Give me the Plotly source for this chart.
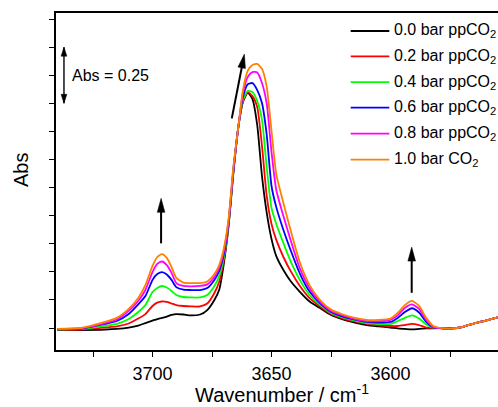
import math
import plotly.graph_objects as go

# Wavenumber grid (cm-1) shared by all spectra
wavenumber = [3740, 3730, 3720, 3715, 3710, 3706, 3703, 3700, 3698, 3696,
              3694, 3692, 3690, 3687, 3684, 3680, 3677, 3674, 3672, 3670,
              3668, 3666, 3664, 3662, 3660, 3658, 3656, 3654, 3652, 3650,
              3648, 3645, 3642, 3638, 3634, 3630, 3625, 3620, 3615, 3610,
              3605, 3600, 3597, 3594, 3591, 3588, 3585, 3582, 3578, 3574,
              3570, 3565, 3560, 3555]

# Absorbance spectra at increasing CO2 partial pressure
abs_00 = [-0.009, -0.009, -0.007, -0.004, 0.002, 0.011, 0.022, 0.033, 0.040, 0.045,
          0.051, 0.058, 0.062, 0.060, 0.056, 0.060, 0.080, 0.125, 0.169, 0.289,
          0.458, 0.694, 0.890, 1.006, 1.046, 1.019, 0.903, 0.676, 0.512, 0.396,
          0.320, 0.258, 0.209, 0.160, 0.118, 0.091, 0.058, 0.038, 0.024, 0.013,
          0.007, 0.002, -0.002, -0.004, -0.006, -0.004, -0.002, -0.001, -0.001, -0.002,
          0.004, 0.020, 0.033, 0.047]
abs_02 = [-0.008, -0.007, 0.002, 0.007, 0.020, 0.042, 0.062, 0.098, 0.113, 0.118,
          0.116, 0.109, 0.102, 0.098, 0.096, 0.096, 0.109, 0.156, 0.205, 0.303,
          0.463, 0.696, 0.890, 1.010, 1.050, 1.032, 0.983, 0.810, 0.587, 0.463,
          0.392, 0.316, 0.254, 0.186, 0.133, 0.099, 0.062, 0.042, 0.029, 0.018,
          0.012, 0.009, 0.009, 0.013, 0.018, 0.013, 0.002, 0.000, -0.001, -0.002,
          0.004, 0.020, 0.033, 0.047]
abs_04 = [-0.007, -0.004, 0.009, 0.018, 0.040, 0.071, 0.102, 0.160, 0.178, 0.187,
          0.180, 0.165, 0.147, 0.138, 0.136, 0.136, 0.147, 0.187, 0.231, 0.316,
          0.467, 0.699, 0.890, 1.015, 1.055, 1.050, 1.010, 0.926, 0.712, 0.534,
          0.463, 0.378, 0.298, 0.212, 0.147, 0.106, 0.067, 0.047, 0.033, 0.022,
          0.018, 0.018, 0.031, 0.045, 0.056, 0.042, 0.016, 0.001, -0.001, -0.002,
          0.004, 0.020, 0.033, 0.047]
abs_06 = [-0.006, -0.003, 0.018, 0.031, 0.062, 0.105, 0.142, 0.214, 0.240, 0.249,
          0.238, 0.214, 0.182, 0.171, 0.169, 0.169, 0.178, 0.214, 0.254, 0.329,
          0.472, 0.703, 0.890, 1.028, 1.085, 1.090, 1.059, 1.001, 0.859, 0.632,
          0.538, 0.436, 0.347, 0.240, 0.162, 0.114, 0.071, 0.051, 0.037, 0.027,
          0.024, 0.027, 0.045, 0.071, 0.088, 0.069, 0.027, 0.002, -0.001, -0.002,
          0.004, 0.020, 0.033, 0.047]
abs_08 = [-0.005, -0.001, 0.022, 0.038, 0.076, 0.120, 0.169, 0.249, 0.285, 0.296,
          0.280, 0.245, 0.200, 0.187, 0.185, 0.187, 0.194, 0.227, 0.267, 0.343,
          0.481, 0.712, 0.890, 1.046, 1.117, 1.139, 1.137, 1.090, 0.997, 0.783,
          0.614, 0.498, 0.392, 0.263, 0.177, 0.121, 0.076, 0.056, 0.040, 0.031,
          0.030, 0.036, 0.056, 0.089, 0.105, 0.085, 0.036, 0.004, -0.001, -0.002,
          0.004, 0.020, 0.033, 0.047]
abs_10 = [-0.004, 0.000, 0.027, 0.045, 0.085, 0.134, 0.191, 0.276, 0.316, 0.329,
          0.312, 0.271, 0.223, 0.202, 0.200, 0.200, 0.207, 0.240, 0.280, 0.356,
          0.490, 0.721, 0.890, 1.059, 1.144, 1.170, 1.175, 1.153, 1.072, 0.877,
          0.685, 0.556, 0.436, 0.289, 0.191, 0.129, 0.082, 0.060, 0.045, 0.036,
          0.036, 0.042, 0.067, 0.102, 0.121, 0.098, 0.045, 0.009, -0.001, -0.002,
          0.004, 0.020, 0.033, 0.047]

series_labels = ["0.0 bar ppCO<sub>2</sub>", "0.2 bar ppCO<sub>2</sub>",
                 "0.4 bar ppCO<sub>2</sub>", "0.6 bar ppCO<sub>2</sub>",
                 "0.8 bar ppCO<sub>2</sub>", "1.0 bar CO<sub>2</sub>"]
series_colors = ["#000000", "#ff0000", "#00ff00", "#0000ff", "#ff00ff", "#ff8000"]
series_values = [abs_00, abs_02, abs_04, abs_06, abs_08, abs_10]

x_tick_vals = [3700, 3650, 3600]
x_minor_tick_vals = [3725, 3675, 3625, 3575]
y_tick_vals = [0.0, 0.125, 0.25, 0.375, 0.5, 0.625, 0.75, 0.875, 1.0, 1.125, 1.25, 1.375]

scale_bar_value = 0.25
scale_bar_base = 1.0

FONT = "Liberation Sans, Arial, sans-serif"

fig = go.Figure()
for values, label, color in zip(series_values, series_labels, series_colors):
    fig.add_trace(go.Scatter(
        x=wavenumber, y=values, mode="lines", name=label,
        line=dict(color=color, width=1.8, shape="spline", smoothing=0.6),
        showlegend=False, hoverinfo="skip",
    ))


def arrow(x_tip, y_tip, tail_dx, tail_dy, head_len, head_half, width):
    """Arrow drawn in pixel units around a tip given in data coordinates."""
    length = math.hypot(tail_dx, tail_dy)
    ux, uy = tail_dx / length, tail_dy / length
    px, py = -uy, ux
    bx, by = ux * head_len, uy * head_len
    c1 = (bx + px * head_half, by + py * head_half)
    c2 = (bx - px * head_half, by - py * head_half)
    common = dict(type="path", xref="x", yref="y", xsizemode="pixel",
                  ysizemode="pixel", xanchor=x_tip, yanchor=y_tip, layer="above")
    shapes = []
    if length > 2:
        shapes.append(dict(common, path=f"M{bx*0.7:.2f},{by*0.7:.2f} L{tail_dx:.2f},{tail_dy:.2f}",
                           line=dict(color="black", width=width)))
    shapes.append(dict(common,
                       path=f"M0,0 L{c1[0]:.2f},{c1[1]:.2f} L{c2[0]:.2f},{c2[1]:.2f} Z",
                       fillcolor="black", line=dict(color="black", width=0.5)))
    return shapes


shapes = []
# growth arrows over the three bands
shapes += arrow(3696.4, 0.577, 0.0, -45.0, 14, 3.8, 2.0)
shapes += arrow(3661.4, 1.219, -12.6, -64.3, 14, 3.8, 2.0)
shapes += arrow(3591.1, 0.360, 0.0, -45.7, 14, 3.8, 2.0)

# absorbance scale bar
bar_x = 3737.2
shapes.append(dict(type="line", xref="x", yref="y", x0=bar_x, x1=bar_x,
                   y0=scale_bar_base, y1=scale_bar_base + scale_bar_value,
                   line=dict(color="black", width=1.4)))
shapes += arrow(bar_x, scale_bar_base + scale_bar_value, 0.0, -1.0, 9, 2.9, 1.4)
shapes += arrow(bar_x, scale_bar_base, 0.0, 1.0, 9, 2.9, 1.4)

annotations = [
    dict(text=f"Abs = {scale_bar_value:.2f}", x=3734.6, y=scale_bar_base + scale_bar_value / 2,
         xref="x", yref="y", xanchor="left", yanchor="middle", showarrow=False,
         font=dict(size=16, color="black", family=FONT)),
    dict(text="Abs", x=-0.0792, y=0.534, xref="paper", yref="paper", textangle=-90,
         xanchor="center", yanchor="middle", showarrow=False,
         font=dict(size=20, color="black", family=FONT)),
    dict(text="Wavenumber / cm<sup>-1</sup>", x=0.5113, y=-0.128, xref="paper", yref="paper",
         xanchor="center", yanchor="middle", showarrow=False,
         font=dict(size=20, color="black", family=FONT)),
]

# legend block
legend_y = [0.9466, 0.8714, 0.7951, 0.7191, 0.6419, 0.5647]
for yy, label, color in zip(legend_y, series_labels, series_colors):
    shapes.append(dict(type="line", xref="paper", yref="paper", x0=0.6667, x1=0.7541,
                       y0=yy, y1=yy, line=dict(color=color, width=1.8)))
    annotations.append(dict(text=label, x=0.7608, y=yy, xref="paper", yref="paper",
                            xanchor="left", yanchor="middle", showarrow=False,
                            font=dict(size=16, color="black", family=FONT)))

fig.update_layout(
    width=498, height=407,
    margin=dict(l=56, r=0, t=13, b=57),
    paper_bgcolor="white", plot_bgcolor="white",
    showlegend=False,
    font=dict(family=FONT, color="black"),
    shapes=shapes, annotations=annotations,
)
fig.update_xaxes(
    range=[3740.55, 3554.84], tickvals=x_tick_vals,
    ticks="outside", ticklen=5, tickwidth=1.2, tickcolor="black",
    minor=dict(tickvals=x_minor_tick_vals, ticks="outside", ticklen=5,
               tickwidth=1.2, tickcolor="black", showgrid=False),
    showline=True, linecolor="black", linewidth=1.5, mirror=True,
    showgrid=False, zeroline=False, ticklabelstandoff=2,
    tickfont=dict(size=18, color="black", family=FONT),
)
fig.update_yaxes(
    range=[-0.0979, 1.4019], tickvals=y_tick_vals,
    ticks="outside", ticklen=5, tickwidth=1.2, tickcolor="black",
    showticklabels=False, showline=True, linecolor="black", linewidth=1.5,
    mirror=False, showgrid=False, zeroline=False,
)

fig.write_html("out.html")
